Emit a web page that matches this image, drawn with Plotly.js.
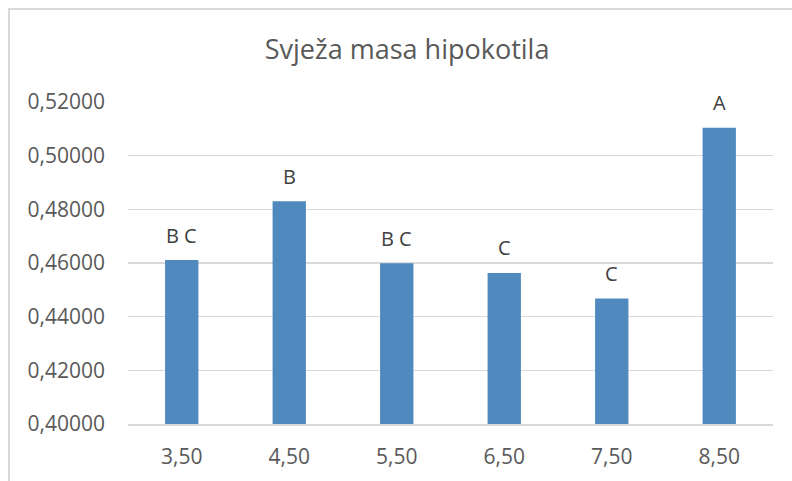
<!DOCTYPE html>
<html>
<head>
<meta charset="utf-8">
<script src="https://cdn.plot.ly/plotly-3.0.1.min.js"></script>
<style>html,body{margin:0;padding:0;background:#fff;}#chart{width:792px;height:481px;}</style>
</head>
<body>
<div id="chart"></div>
<script>
var categories = ["3,50", "4,50", "5,50", "6,50", "7,50", "8,50"];
var values = [0.4611, 0.4830, 0.4599, 0.4563, 0.4468, 0.5104];
var groupLabels = ["B C", "B", "B C", "C", "C", "A"];
var chartTitle = "Svježa masa hipokotila";

var textColor = "#595959";
var font = "Open Sans, Lato, sans-serif";

var annotations = categories.map(function (c, i) {
  return {
    x: c, y: values[i], xref: "x", yref: "y",
    text: groupLabels[i], showarrow: false,
    yanchor: "middle", yshift: 25,
    font: {family: font, size: 20, color: "#404040"}
  };
});

var data = [{
  type: "bar",
  x: categories,
  y: values,
  width: 0.31,
  marker: {color: "#4f89bd", line: {width: 0}},
  hoverinfo: "skip"
}];

var layout = {
  width: 792, height: 481,
  margin: {l: 128, r: 19, t: 102, b: 57},
  paper_bgcolor: "#ffffff",
  plot_bgcolor: "#ffffff",
  separators: ", ",
  showlegend: false,
  title: {
    text: chartTitle,
    xref: "container", yref: "container",
    x: 0.514, xanchor: "center",
    y: 0.897, yanchor: "middle",
    font: {family: font, size: 27, color: textColor}
  },
  xaxis: {
    type: "category",
    showgrid: false,
    showline: true, linecolor: "#d9d9d9", linewidth: 1.5,
    ticks: "", ticklabelstandoff: 13,
    tickfont: {family: font, size: 21, color: textColor},
    fixedrange: true
  },
  yaxis: {
    range: [0.40, 0.52],
    dtick: 0.02, tick0: 0.40,
    tickformat: ".5f",
    showgrid: true, gridcolor: "#d9d9d9", gridwidth: 1.5,
    zeroline: false, showline: false,
    ticks: "", ticklabelstandoff: 22,
    tickfont: {family: font, size: 21, color: textColor},
    fixedrange: true
  },
  annotations: annotations,
  shapes: [{
    type: "rect", xref: "paper", yref: "paper",
    x0: (9 - 128) / 645, x1: (800 - 128) / 645,
    y0: (424 - 495) / 322, y1: (424 - 9) / 322,
    line: {color: "#d9d9d9", width: 2},
    fillcolor: "rgba(0,0,0,0)",
    layer: "below"
  }]
};

Plotly.newPlot("chart", data, layout, {staticPlot: true, displayModeBar: false});
</script>
</body>
</html>
